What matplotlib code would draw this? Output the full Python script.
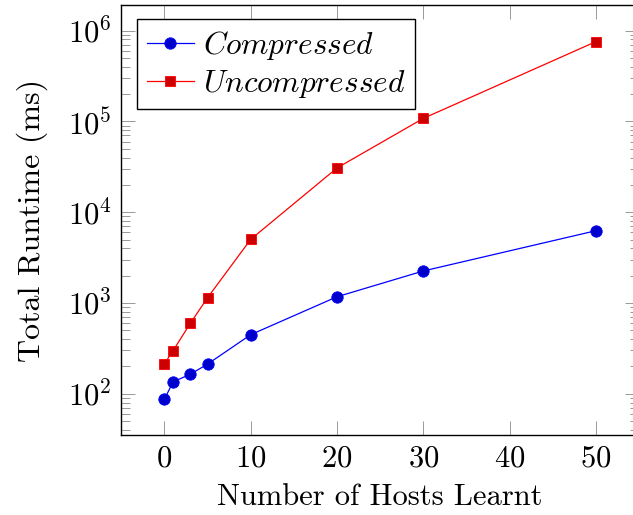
import numpy as np
import matplotlib
matplotlib.use("Agg")
import matplotlib.pyplot as plt
from matplotlib.ticker import LogLocator, NullFormatter

hosts = [0, 1, 3, 5, 10, 20, 30, 50]
compressed = [87, 135, 164, 212, 447, 1170, 2250, 6250]
uncompressed = [214, 298, 597, 1143, 5020, 30700, 108000, 757000]

plt.rcParams['font.family'] = 'serif'
plt.rcParams['font.serif'] = ['cmr10']
plt.rcParams['mathtext.fontset'] = 'cm'
plt.rcParams['axes.formatter.use_mathtext'] = True


def main():
    fig = plt.figure(figsize=(6.33, 5.15), dpi=100)
    # axes box in pixels: left 121, top 5, bottom 435, right edge cropped (~639)
    ax = fig.add_axes([121.3 / 633, (515 - 435) / 515, 517.7 / 633, 430 / 515])

    ax.plot(hosts, compressed, color='blue', lw=0.9, marker='o', ms=8.2,
            mfc='#0000cc', mec='blue', mew=0.6, label='$Compressed$')
    ax.plot(hosts, uncompressed, color='red', lw=0.9, marker='s', ms=7.8,
            mfc='#cc0000', mec='red', mew=0.6, label='$Uncompressed$')

    ax.set_yscale('log')
    ax.set_xlim(-5, 55)
    ax.set_ylim(10 ** 1.545, 10 ** 6.283)
    ax.set_xticks([0, 10, 20, 30, 40, 50])
    ax.yaxis.set_major_locator(LogLocator(base=10, numticks=10))
    ax.yaxis.set_minor_locator(LogLocator(base=10, subs=np.arange(2, 10), numticks=20))
    ax.yaxis.set_minor_formatter(NullFormatter())

    ax.tick_params(which='both', direction='in', top=True, right=True,
                   color='0.6', width=0.7, labelsize=22, pad=7)
    ax.tick_params(which='major', length=10)
    ax.tick_params(which='minor', length=6.5)
    for s in ax.spines.values():
        s.set_linewidth(1.0)

    ax.set_xlabel('Number of Hosts Learnt', fontsize=22, labelpad=8)
    ax.set_ylabel('Total Runtime (ms)', fontsize=23, labelpad=14)

    leg = ax.legend(loc='upper left', bbox_to_anchor=(0.031, 0.967), borderaxespad=0,
                    fontsize=22.5, fancybox=False, framealpha=1, edgecolor='black',
                    handlelength=1.5, handletextpad=0.3, borderpad=0.3,
                    labelspacing=0.2)
    leg.get_frame().set_linewidth(1.0)

    fig.savefig('out.png', dpi=100)


if __name__ == "__main__":
    main()
